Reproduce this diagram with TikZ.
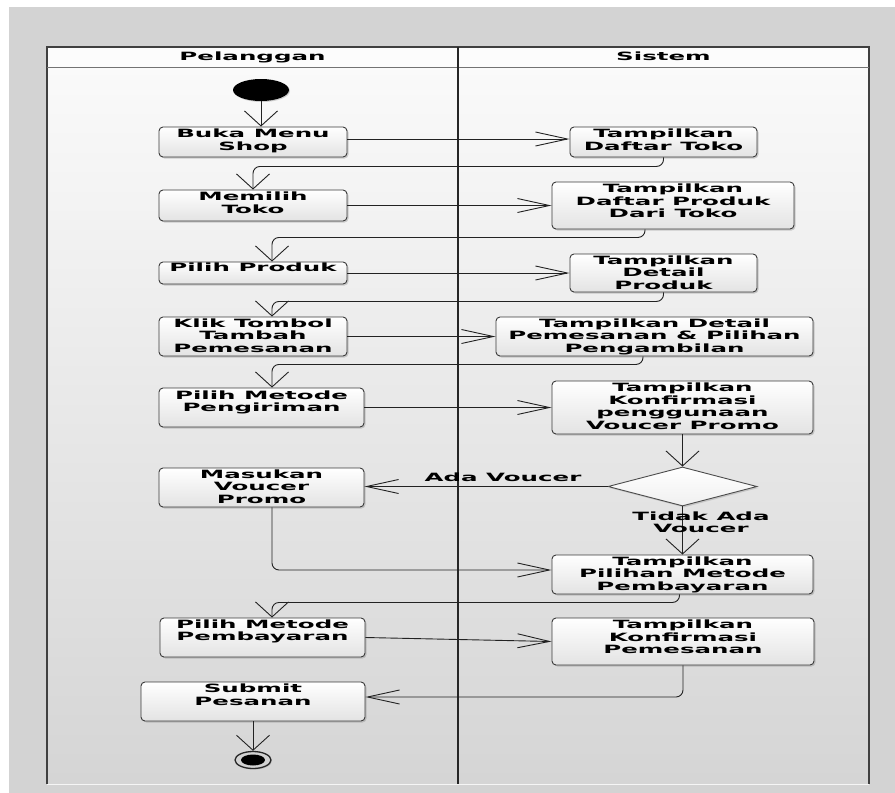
\documentclass[tikz,border=0pt]{standalone}
\usepackage{fontspec}
\newfontfamily\lblfont{DejaVu Sans}[FakeStretch=2.15]
\usetikzlibrary{arrows.meta,shapes.geometric,shadows}
\definecolor{outergray}{HTML}{D3D3D3}
\definecolor{linec}{HTML}{222222}
\definecolor{boxborder}{HTML}{3A3A3A}
\begin{document}
\begin{tikzpicture}[x=1pt,y=-1pt,
 lbl/.style={font={\lblfont\bfseries\fontsize{11.4}{12.4}\selectfont}, align=center, inner sep=0pt, text=black},
 act/.style={draw=boxborder, line width=0.9pt, rounded corners=4pt, top color=white, bottom color=gray!22, inner sep=0pt,
   drop shadow={shadow xshift=1.5pt, shadow yshift=-1.5pt, opacity=0.35}},
 conn/.style={draw=linec, line width=0.9pt, rounded corners=7pt},
 harr/.style={-{Straight Barb[length=32pt,width=14pt]}},
 varr/.style={-{Straight Barb[length=15pt,width=33pt]}},
]
\useasboundingbox (0,0) rectangle (895,793);
% background
\fill[white] (0,0) rectangle (895,793);
\fill[outergray] (9,7) rectangle (895,793);
\shade[top color=white!98!black, bottom color=gray!33] (47,67) rectangle (869,784);
\fill[white!99!black] (47,47) rectangle (869,67);
\draw[white!92!gray, line width=1pt] (47,784.5) -- (869,784.5);
\draw[black!75, line width=1.6pt] (47,784) -- (47,47) -- (869,47) -- (869,784);
\draw[black!55, line width=1pt] (47,67) -- (869,67);
\draw[black!85, line width=1.4pt] (458,47) -- (458,784);
\node[lbl, anchor=base] (lane1) at (252.5,60) {Pelanggan};
\node[lbl, anchor=base] (lane2) at (663.5,60) {Sistem};

% start
\node[ellipse, fill=black, minimum width=56pt, minimum height=22pt, inner sep=0pt,
  drop shadow={shadow xshift=1pt, shadow yshift=-1pt, opacity=0.35}] (start) at (261,90) {};

% activities
\node[act, minimum width=188pt, minimum height=30pt] (b1) at (253,142) {};
\node[act, minimum width=187pt, minimum height=30pt] (s1) at (663.5,142) {};
\node[act, minimum width=188pt, minimum height=31pt] (b2) at (253,205.5) {};
\node[act, minimum width=242pt, minimum height=47pt] (s2) at (673,205.5) {};
\node[act, minimum width=188pt, minimum height=22pt] (b3) at (253,273) {};
\node[act, minimum width=187pt, minimum height=38pt] (s3) at (663.5,273) {};
\node[act, minimum width=188pt, minimum height=39pt] (b4) at (253,336.5) {};
\node[act, minimum width=317pt, minimum height=39pt] (s4) at (654.5,336.5) {};
\node[act, minimum width=205pt, minimum height=39pt] (b5) at (261.5,407.5) {};
\node[act, minimum width=261pt, minimum height=53pt] (s5) at (682.5,407.5) {};
\node[diamond, draw=black!70, line width=0.9pt, top color=white, bottom color=gray!12, minimum width=149pt, minimum height=39pt, inner sep=0pt,
  drop shadow={shadow xshift=1.5pt, shadow yshift=-1.5pt, opacity=0.3}] (dec) at (682.5,486.5) {};
\node[act, minimum width=205pt, minimum height=39pt] (b6) at (261.5,487.5) {};
\node[act, minimum width=261pt, minimum height=39pt] (s6) at (682.5,574.5) {};
\node[act, minimum width=205pt, minimum height=39pt] (b7) at (262.5,637.5) {};
\node[act, minimum width=262pt, minimum height=47pt] (s7) at (683,641.5) {};
\node[act, minimum width=224pt, minimum height=39pt] (b8) at (253,701.5) {};

% end
\node[ellipse, draw=black!85, line width=1.3pt, fill=gray!35, minimum width=36pt, minimum height=17pt, inner sep=0pt,
  drop shadow={shadow xshift=1pt, shadow yshift=-1pt, opacity=0.35}] (end) at (253,760) {};
\node[ellipse, fill=black, minimum width=24pt, minimum height=11pt, inner sep=0pt] (endin) at (253,760) {};

% labels in activities
\node[lbl, anchor=north] (b1t) at ([yshift=-2.5pt]b1.north) {Buka Menu\\Shop};
\node[lbl, anchor=north] (s1t) at ([yshift=-2.5pt]s1.north) {Tampilkan\\Daftar Toko};
\node[lbl, anchor=north] (b2t) at ([yshift=-2.5pt]b2.north) {Memilih\\Toko};
\node[lbl, anchor=north] (s2t) at ([yshift=-2.5pt]s2.north) {Tampilkan\\Daftar Produk\\Dari Toko};
\node[lbl, anchor=north] (b3t) at ([yshift=-1.5pt]b3.north) {Pilih Produk};
\node[lbl, anchor=north] (s3t) at ([yshift=-2pt]s3.north) {Tampilkan\\Detail\\Produk};
\node[lbl, anchor=north] (b4t) at ([yshift=-2pt]b4.north) {Klik Tombol\\Tambah\\Pemesanan};
\node[lbl, anchor=north] (s4t) at ([yshift=-2pt]s4.north) {Tampilkan Detail\\Pemesanan \& Pilihan\\Pengambilan};
\node[lbl, anchor=north] (b5t) at ([yshift=-3pt]b5.north) {Pilih Metode\\Pengiriman};
\node[lbl, anchor=north] (s5t) at ([yshift=-2.5pt]s5.north) {Tampilkan\\Konfirmasi\\penggunaan\\Voucer Promo};
\node[lbl, anchor=north] (b6t) at ([yshift=-2pt]b6.north) {Masukan\\Voucer\\Promo};
\node[lbl, anchor=north] (s6t) at ([yshift=-2pt]s6.north) {Tampilkan\\Pilihan Metode\\Pembayaran};
\node[lbl, anchor=north] (b7t) at ([yshift=-2pt]b7.north) {Pilih Metode\\Pembayaran};
\node[lbl, anchor=north] (s7t) at ([yshift=-2.5pt]s7.north) {Tampilkan\\Konfirmasi\\Pemesanan};
\node[lbl, anchor=north] (b8t) at ([yshift=-2.5pt]b8.north) {Submit\\Pesanan};

% connectors
\draw[conn, varr] (start.south) -- (start.south |- b1.north);
\draw[conn, harr] ([yshift=3pt]b1.east) -- ([yshift=3pt]s1.west);
\draw[conn, varr] (s1.south) -- ++(0,9) -| (b2.north);
\draw[conn, harr] (b2.east) -- (s2.west);
\draw[conn, varr] ([xshift=-28pt]s2.south) -- ++(0,8) -| ([xshift=19pt]b3.north);
\draw[conn, harr] (b3.east) -- (s3.west);
\draw[conn, varr] (s3.south) -- ++(0,9) -| ([xshift=19pt]b4.north);
\draw[conn, harr] (b4.east) -- (s4.west);
\draw[conn, varr] ([xshift=-11.5pt]s4.south) -- ++(0,8) -| ([xshift=10.5pt]b5.north);
\draw[conn, harr] (b5.east) -- (s5.west);
\draw[conn, varr] (s5.south) -- (dec.north);
\draw[conn, harr] (dec.west) -- (b6.east |- dec.west);
\draw[conn, varr] (dec.south) -- (s6.north);
\draw[conn, harr] ([xshift=10.5pt]b6.south) |- ([yshift=4.5pt]s6.west);
\draw[conn, varr] ([xshift=-3pt]s6.south) -- ++(0,8) -| ([xshift=9.5pt]b7.north);
\draw[conn, harr] (b7.east) -- (s7.west);
\draw[conn, harr] (s7.south) |- ([yshift=4.5pt]b8.east);
\draw[conn, varr] (b8.south) -- (end.north);

% guard labels
\node[lbl, anchor=base] (ada) at (503,481.7) {Ada Voucer};
\node[lbl, anchor=north] (tidak) at (701,511.5) {Tidak Ada\\Voucer};
\end{tikzpicture}
\end{document}
